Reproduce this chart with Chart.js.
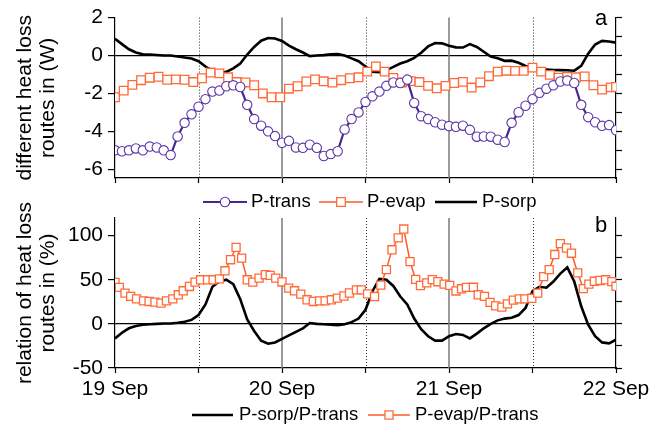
<!DOCTYPE html>
<html><head><meta charset="utf-8">
<script src="https://cdn.jsdelivr.net/npm/chart.js"></script>
<style>
html,body{margin:0;padding:0;background:#fff;}
#wrap{position:relative;width:665px;height:432px;overflow:hidden;background:#fff;}
canvas{position:absolute;left:0;}
#c1{top:0;} #c2{top:196px;}
</style></head><body>
<div id="wrap"><canvas id="c1" width="665" height="216"></canvas><canvas id="c2" width="665" height="236"></canvas></div>
<script>
// ---------- data ----------
const dayLabels = ['19 Sep','20 Sep','21 Sep','22 Sep'];
const dayTicks = [0,24,48,72];
const noonTicks = [12,36,60];
const halfDayTicks = [0,12,24,36,48,60,72];
const topTicks = [-6,-4,-2,0,2];
const topMinorTicks = [-6,-5,-4,-3,-2,-1,0,1,2];
const botTicks = [-50,0,50,100];
const botMinorTicks = [-50,-25,0,25,50,75,100];

// hourly samples (hour 0 = 19 Sep 00:00)
const hours = [0,1,2,3,4,5,6,7,8,9,10,11,12,13,14,15,16,17,18,19,20,21,22,23,24,25,26,27,28,29,30,31,32,33,34,35,36,37,38,39,40,41,42,43,44,45,46,47,48,49,50,51,52,53,54,55,56,57,58,59,60,61,62,63,64,65,66,67,68,69,70,71,72];
const pTrans = [-5.0,-5.05,-5.0,-4.9,-5.0,-4.8,-4.85,-5.0,-5.25,-4.27,-3.55,-3.1,-2.7,-2.3,-1.9,-1.85,-1.62,-1.57,-1.66,-2.6,-3.35,-3.7,-4.0,-4.25,-4.6,-4.5,-4.85,-4.87,-4.7,-4.87,-5.3,-5.2,-5.05,-3.9,-3.35,-3.0,-2.45,-2.15,-1.9,-1.6,-1.42,-1.45,-1.27,-2.5,-3.2,-3.35,-3.52,-3.65,-3.72,-3.76,-3.7,-3.92,-4.28,-4.27,-4.28,-4.44,-4.56,-3.55,-2.99,-2.65,-2.3,-1.97,-1.75,-1.57,-1.37,-1.32,-1.45,-2.6,-3.25,-3.52,-3.71,-3.67,-3.94];
const pSorp = [0.88,0.6,0.33,0.16,0.07,0.05,0.03,0.0,0.0,-0.05,-0.1,-0.16,-0.3,-0.58,-0.8,-0.87,-0.87,-0.68,-0.42,0.05,0.45,0.78,0.92,0.9,0.77,0.52,0.33,0.16,-0.03,0.0,0.02,0.06,0.08,0.0,-0.15,-0.3,-0.58,-0.85,-0.88,-0.78,-0.6,-0.42,-0.3,-0.12,0.15,0.48,0.66,0.64,0.52,0.43,0.42,0.6,0.45,0.2,-0.05,-0.15,-0.28,-0.27,-0.38,-0.55,-0.65,-0.72,-0.74,-0.76,-0.77,-0.78,-0.8,-0.55,0.1,0.58,0.77,0.74,0.68];
const evapHours = [0,1.25,2.5,3.75,5,6.25,7.5,8.75,10,11.25,12.5,13.75,15,16.25,17.5,18.75,20,21.25,22.5,23.75,25,26.25,27.5,28.75,30,31.25,32.5,33.75,35,36.25,37.5,38.75,40,41.25,42.5,43.75,45,46.25,47.5,48.75,50,51.25,52.5,53.75,55,56.25,57.5,58.75,60,61.25,62.5,63.75,65,66.25,67.5,68.75,70,71.25,72];
const pEvap = [-2.2,-1.85,-1.55,-1.3,-1.17,-1.12,-1.28,-1.26,-1.28,-1.4,-1.2,-0.9,-0.94,-1.15,-1.4,-1.42,-1.57,-2.0,-2.2,-2.2,-1.75,-1.62,-1.37,-1.26,-1.36,-1.43,-1.3,-1.2,-1.15,-0.85,-0.58,-0.85,-1.18,-1.42,-1.35,-1.4,-1.6,-1.73,-1.6,-1.45,-1.39,-1.69,-1.42,-1.09,-0.85,-0.8,-0.81,-0.81,-0.64,-0.85,-1.02,-1.17,-1.13,-1.15,-1.1,-1.57,-1.8,-1.68,-1.66];

const ratioSorp = [-16.5,-10,-5,-2.5,-1,-0.5,0,0.5,0.5,1.2,2.5,4.5,10,22,42,48,50,45,28,5,-8,-19,-22.5,-21,-17,-13,-9,-5,1,0,-0.5,-1,-1.5,-0.5,2,6,16,37,51,50,43,31,22,6,-6,-14,-19,-19,-14,-11.5,-12.5,-16.5,-11,-5,0,4,6,7,10,18,37,42,41,48,57,64,48,20,-1,-14,-21,-22,-18];
const ratioEvapHours = [0,0.62,1.44,2.25,3.1,4.1,4.9,5.75,6.6,7.4,8.3,9.1,9.8,10.7,11.5,12.3,13.3,14.1,15.0,15.8,16.6,17.4,18.2,19.0,19.8,20.7,21.6,22.3,23.1,24.0,24.96,25.8,26.7,27.6,28.5,29.4,30.2,31.1,31.96,32.9,33.7,34.7,35.4,36.3,37.3,38.2,39.0,39.8,40.7,41.5,42.4,43.2,43.9,44.8,45.6,46.4,47.3,48.1,49.0,49.8,50.5,51.5,52.2,53.1,53.9,54.7,55.6,56.4,57.25,58.1,58.9,59.9,60.75,61.6,62.4,63.2,64.0,64.9,65.6,66.5,67.3,68.1,68.9,69.7,70.5,71.4,72.0];
const ratioEvap = [47,41.3,34.8,31.1,28.4,26.1,25.4,24.6,23.5,26.1,28.4,33,37.5,42.4,47.3,50,50,50,51,60.2,72.7,86.7,74.6,50,47.3,51.9,55.7,54.9,51.9,47.5,40.5,37.5,33.7,27.3,25.4,26.1,26.1,27.3,29.2,31.6,35,38.6,38.6,34,31,44,61.5,84,97.5,107.5,70.5,50.5,43.5,46.4,50.2,47.8,45,43.6,37.3,39.8,41.3,41.5,33,31.1,24.3,20.4,19,22.7,26.9,28.4,28.4,29,34.9,53.6,61.5,78.6,91,86,80.1,57.8,40,45,48.3,49.2,50,47.9,42.6];

// ---------- style ----------
const FONT = "'Liberation Sans', Arial, Helvetica, sans-serif";
const PURPLE = '#4a2590', PURPLE_M = '#5a36a8';
const ORANGE = '#ff5a26', ORANGE_M = '#ff6a38';
const AX = '#000';
const FS = 21;

const xy = (xs, ys) => ys.map((v,i)=>({x:xs[i], y:v}));

const vgridPlugin = {
  id:'vgrid',
  beforeDatasetsDraw(chart){
    const {ctx, chartArea:{top,bottom}} = chart; const x = chart.scales.x;
    ctx.save();
    ctx.strokeStyle = '#7a7a7a'; ctx.lineWidth = 1.5;
    dayTicks.forEach(h=>{ if(h>0 && h<72){ const px = x.getPixelForValue(h); ctx.beginPath(); ctx.moveTo(px,top); ctx.lineTo(px,bottom); ctx.stroke(); }});
    ctx.strokeStyle = '#333'; ctx.lineWidth = 1; ctx.setLineDash([1,2]);
    noonTicks.forEach(h=>{ const px = Math.round(x.getPixelForValue(h))+0.5; ctx.beginPath(); ctx.moveTo(px,top); ctx.lineTo(px,bottom); ctx.stroke(); });
    ctx.restore();
  }
};

const legendPlugin = {
  id:'customLegend',
  afterDraw(chart, args, opts){
    const ctx = chart.ctx;
    ctx.save();
    opts.items.forEach(it=>{
      const ds = chart.data.datasets[it.ds];
      const y = opts.y;
      ctx.strokeStyle = ds.borderColor; ctx.lineWidth = ds.borderWidth; ctx.setLineDash([]);
      ctx.beginPath(); ctx.moveTo(it.x0,y); ctx.lineTo(it.x1,y); ctx.stroke();
      const mx = (it.x0+it.x1)/2;
      if (ds.pointRadius > 0){
        ctx.fillStyle = '#fff'; ctx.strokeStyle = ds.pointBorderColor; ctx.lineWidth = ds.pointBorderWidth;
        ctx.beginPath();
        if (ds.pointStyle === 'circle'){ ctx.arc(mx,y,ds.pointRadius,0,Math.PI*2); }
        else { const s = ds.pointRadius*Math.SQRT1_2; ctx.rect(mx-s,y-s,2*s,2*s); }
        ctx.fill(); ctx.stroke();
      }
      ctx.fillStyle = '#000'; ctx.font = opts.size + 'px ' + FONT; ctx.textBaseline = 'middle'; ctx.textAlign = 'left';
      ctx.fillText(ds.label, it.tx, y);
    });
    if (opts.letter){
      ctx.font = '22px ' + FONT; ctx.textBaseline = 'alphabetic'; ctx.textAlign = 'left'; ctx.fillStyle = '#000';
      ctx.fillText(opts.letter.text, opts.letter.x, opts.letter.y);
    }
    ctx.restore();
  }
};

function yAxis(min, max, ticks, title){
  return {
    type:'linear', position:'left', min:min, max:max,
    afterBuildTicks: s => { s.ticks = ticks.map(v=>({value:v})); },
    afterFit: s => { s.width = 115; },
    ticks:{ font:{family:FONT,size:FS}, color:'#000', padding:5 },
    grid:{ color: c => (c.tick && c.tick.value === 0) ? '#000' : 'rgba(0,0,0,0)', lineWidth:1.2, tickLength:7, tickColor:AX, tickWidth:1.2 },
    border:{ color:AX, width:1.2 },
    title:{ display:true, text:title, color:'#000', font:{family:FONT,size:FS,lineHeight:1.1}, padding:{top:14,bottom:0} }
  };
}
function y2Axis(min, max, ticks){
  return {
    type:'linear', position:'right', min:min, max:max,
    afterBuildTicks: s => { s.ticks = ticks.map(v=>({value:v})); },
    afterFit: s => { s.width = 49; },
    ticks:{ callback:()=>'', font:{size:10} },
    grid:{ drawOnChartArea:false, tickLength:6, tickColor:AX, tickWidth:1.2 },
    border:{ color:AX, width:1.2 }
  };
}
function xAxis(height, labels){
  return {
    type:'linear', min:0, max:72,
    afterBuildTicks: s => { s.ticks = halfDayTicks.map(v=>({value:v})); },
    afterFit: s => { s.height = height; },
    ticks:{ autoSkip:false, maxRotation:0, padding:4, font:{family:FONT,size:FS}, color:'#000',
      callback: v => { if(!labels) return ''; const i = dayTicks.indexOf(v); return i>=0 ? dayLabels[i] : ''; } },
    grid:{ drawOnChartArea:false, tickLength:5, tickColor:AX, tickWidth:1.2 },
    border:{ color:AX, width:1.2 }
  };
}

const common = { responsive:false, animation:false, devicePixelRatio:1, events:[],
  elements:{ line:{ tension:0 } } };

new Chart(document.getElementById('c1'), {
  type:'line',
  data:{ datasets:[
    { label:'P-trans', data:xy(hours,pTrans), borderColor:PURPLE, borderWidth:2.2, pointStyle:'circle', pointRadius:4.7, pointBorderColor:PURPLE_M, pointBackgroundColor:'#fff', pointBorderWidth:1.1 },
    { label:'P-evap', data:xy(evapHours,pEvap), borderColor:ORANGE, borderWidth:1.5, pointStyle:'rect', pointRadius:6.1, pointBorderColor:ORANGE_M, pointBackgroundColor:'#fff', pointBorderWidth:1.3 },
    { label:'P-sorp', data:xy(hours,pSorp), borderColor:'#000', borderWidth:2.6, pointRadius:0 }
  ]},
  options:Object.assign({}, common, {
    layout:{ padding:{ top:14, left:0, right:0, bottom:0 } },
    scales:{ x:xAxis(38,false), y:yAxis(-6.46,2,topTicks,['different heat loss','routes in (W)']), y2:y2Axis(-6.46,2,topMinorTicks) },
    plugins:{ legend:{display:false}, tooltip:{enabled:false},
      customLegend:{ y:202, size:18.5, items:[ {ds:0,x0:203,x1:247,tx:251}, {ds:1,x0:319,x1:363,tx:367}, {ds:2,x0:435,x1:477,tx:482} ],
        letter:{text:'a', x:595, y:25} } }
  }),
  plugins:[vgridPlugin, legendPlugin]
});

new Chart(document.getElementById('c2'), {
  type:'line',
  data:{ datasets:[
    { label:'P-evap/P-trans', data:xy(ratioEvapHours,ratioEvap), borderColor:ORANGE, borderWidth:1.5, pointStyle:'rect', pointRadius:5.7, pointBorderColor:ORANGE_M, pointBackgroundColor:'#fff', pointBorderWidth:1.3 },
    { label:'P-sorp/P-trans', data:xy(hours,ratioSorp), borderColor:'#000', borderWidth:2.6, pointRadius:0 }
  ]},
  options:Object.assign({}, common, {
    layout:{ padding:{ top:22, left:0, right:0, bottom:0 } },
    scales:{ x:xAxis(64,true), y:yAxis(-50,120,botTicks,['relation of heat loss','routes in (%)']), y2:y2Axis(-50,120,botMinorTicks) },
    plugins:{ legend:{display:false}, tooltip:{enabled:false},
      customLegend:{ y:219, size:18.5, items:[ {ds:1,x0:192,x1:233,tx:239}, {ds:0,x0:368,x1:410,tx:415} ],
        letter:{text:'b', x:595, y:36} } }
  }),
  plugins:[vgridPlugin, legendPlugin]
});
</script>
</body></html>
